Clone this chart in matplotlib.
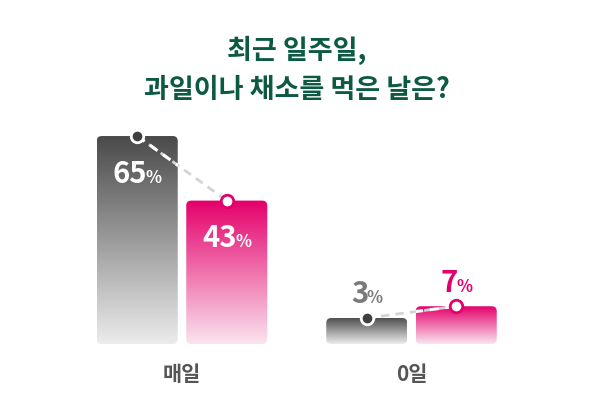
import matplotlib
matplotlib.use('Agg')
import matplotlib.pyplot as plt
import numpy as np
from matplotlib.colors import LinearSegmentedColormap
from matplotlib.patches import FancyBboxPatch, Rectangle
from matplotlib.offsetbox import TextArea, HPacker, AnnotationBbox

plt.rcParams['font.family'] = ['Noto Sans CJK KR', 'DejaVu Sans']

# data
categories = ['매일', '0일']
gray_values = [65, 3]
pink_values = [43, 7]
title_lines = ['최근 일주일,', '과일이나 채소를 먹은 날은?']

GREEN = '#0d5a43'
PINK = '#e4006b'
DARK = '#4a4a4a'

W, H = 594, 420
px_x = 229.5      # pixels per category unit
px_y = 2.935      # pixels per percent
floor = -5.86     # value at bar base (bars are drawn from here)
left_px, base_px, top_px = 182, 344, 120

fig = plt.figure(figsize=(W / 100, H / 100), dpi=100)
ax = fig.add_axes([0, (H - base_px) / H, 1, (base_px - top_px) / H])
ax.set_xlim(-left_px / px_x, (W - left_px) / px_x)
ax.set_ylim(floor, floor + (base_px - top_px) / px_y)
ax.axis('off')

bar_w = 81 / px_x
offset = 44.75 / px_x
radius = 5 / px_x
aspect = px_x / px_y

series = [
    (gray_values, -offset, [DARK, '#ececec'], '#7a7a7a'),
    (pink_values, offset, [PINK, '#fbe4ef'], PINK),
]


def draw_bar(x, val, colors):
    x0 = x - bar_w / 2
    patch = FancyBboxPatch((x0, floor), bar_w, val - floor,
                           boxstyle=f'round,pad=0,rounding_size={radius}',
                           mutation_aspect=aspect, facecolor='none',
                           edgecolor='none')
    ax.add_patch(patch)
    cmap = LinearSegmentedColormap.from_list('g', colors)
    grad = np.linspace(0, 1, 256).reshape(-1, 1)
    im = ax.imshow(grad, cmap=cmap, aspect='auto', origin='upper',
                   extent=(x0, x0 + bar_w, floor, val), zorder=1)
    im.set_clip_path(patch)
    # plain rectangle used to clip the white part of the connector
    return Rectangle((x0, floor), bar_w, val - floor, transform=ax.transData)


def value_label(x, val, color, dy):
    num = TextArea(str(val), textprops=dict(color=color, fontsize=21,
                                            fontweight='heavy'))
    pct = TextArea('%', textprops=dict(color=color, fontsize=12,
                                       fontweight='heavy'))
    box = HPacker(children=[num, pct], align='baseline', pad=0, sep=-1)
    ab = AnnotationBbox(box, (x, val), xybox=(0, dy), xycoords='data',
                        boxcoords='offset points', frameon=False,
                        box_alignment=(0.5, 0.5), zorder=6,
                        annotation_clip=False)
    ax.add_artist(ab)


clips = {}
for vals, off, colors, txt_color in series:
    for i, v in enumerate(vals):
        clips[(off, i)] = draw_bar(i + off, v, colors)
        if v > 20:
            value_label(i + off, v, 'white', -27)
        else:
            value_label(i + off, v, txt_color, 17)

# dashed connectors + dots (white where it crosses a bar)
for i in range(len(categories)):
    xs = [i - offset, i + offset]
    ys = [gray_values[i], pink_values[i]]
    ax.plot(xs, ys, color='#d4d4d4', lw=2, dashes=(3, 2.2), zorder=3)
    for key in [(-offset, i), (offset, i)]:
        ln, = ax.plot(xs, ys, color='white', lw=2.2, dashes=(3, 2.2),
                      zorder=4)
        ln.set_clip_path(clips[key])
    ax.plot(xs[0], ys[0], 'o', ms=9, mfc='#3f3f3f', mec='white', mew=2,
            zorder=5, clip_on=False)
    ax.plot(xs[1], ys[1], 'o', ms=9, mfc='white', mec=PINK, mew=2,
            zorder=5, clip_on=False)
    ax.annotate(categories[i], (i, floor), xytext=(0, -22),
                textcoords='offset points', ha='center', va='center',
                fontsize=15, fontweight='heavy', color='#555555',
                annotation_clip=False)

fig.text(0.5, 1 - 50 / H, title_lines[0], ha='center', va='center',
         fontsize=19.5, fontweight='heavy', color=GREEN)
fig.text(0.5, 1 - 90 / H, title_lines[1], ha='center', va='center',
         fontsize=19.5, fontweight='heavy', color=GREEN)

fig.savefig('out.png', dpi=100)
